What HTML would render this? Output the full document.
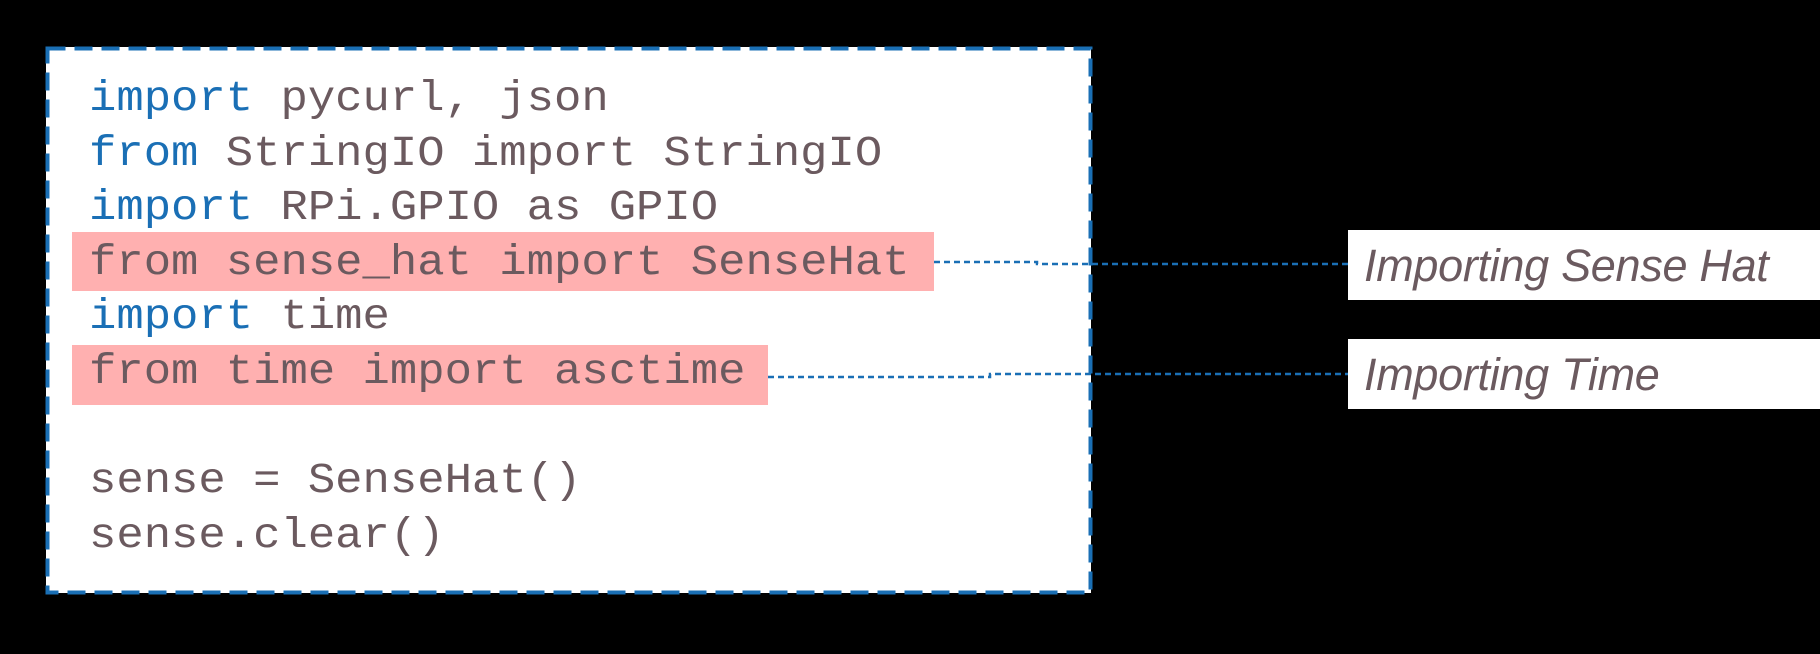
<!DOCTYPE html>
<html><head><style>
html,body{margin:0;padding:0;background:#000;width:1820px;height:654px;overflow:hidden;position:relative}
.box{position:absolute;left:46px;top:47px;width:1045px;height:546px;background:#fff}
.hl{position:absolute;background:#ffb0b0}
.code{position:absolute;left:89px;font-family:"Liberation Mono",monospace;font-size:43px;color:#6b5a5f;white-space:pre;line-height:54.6px;top:72px;transform:scaleX(1.06);transform-origin:left top}
.k{color:#1a6fb5}
.lab{position:absolute;left:1348px;width:472px;height:70px;background:#fff;font-family:"Liberation Sans",sans-serif;font-style:italic;font-size:45px;color:#6b5a5f;line-height:72px;padding-left:16px;box-sizing:border-box;letter-spacing:-0.3px}
svg{position:absolute;left:0;top:0}
</style></head><body>
<div class="box"></div>
<div class="hl" style="left:72px;top:232px;width:862px;height:59px"></div>
<div class="hl" style="left:72px;top:345px;width:696px;height:60px"></div>
<div class="code"><span class="k">import</span> pycurl, json
<span class="k">from</span> StringIO import StringIO
<span class="k">import</span> RPi.GPIO as GPIO
from sense_hat import SenseHat
<span class="k">import</span> time
from time import asctime

sense = SenseHat()
sense.clear()</div>
<div class="lab" style="top:230px">Importing Sense Hat</div>
<div class="lab" style="top:339px">Importing Time</div>
<svg width="1820" height="654">
<rect x="47.5" y="48.5" width="1043" height="544" fill="none" stroke="#1a6fb5" stroke-width="4" stroke-dasharray="18 9"/>
<g stroke="#1a6fb5" stroke-width="2.5" stroke-dasharray="6 4" fill="none">
<path d="M934 262 H1037 V264 H1348"/>
<path d="M768 377 H990 V374 H1348"/>
</g>
</svg>
</body></html>
